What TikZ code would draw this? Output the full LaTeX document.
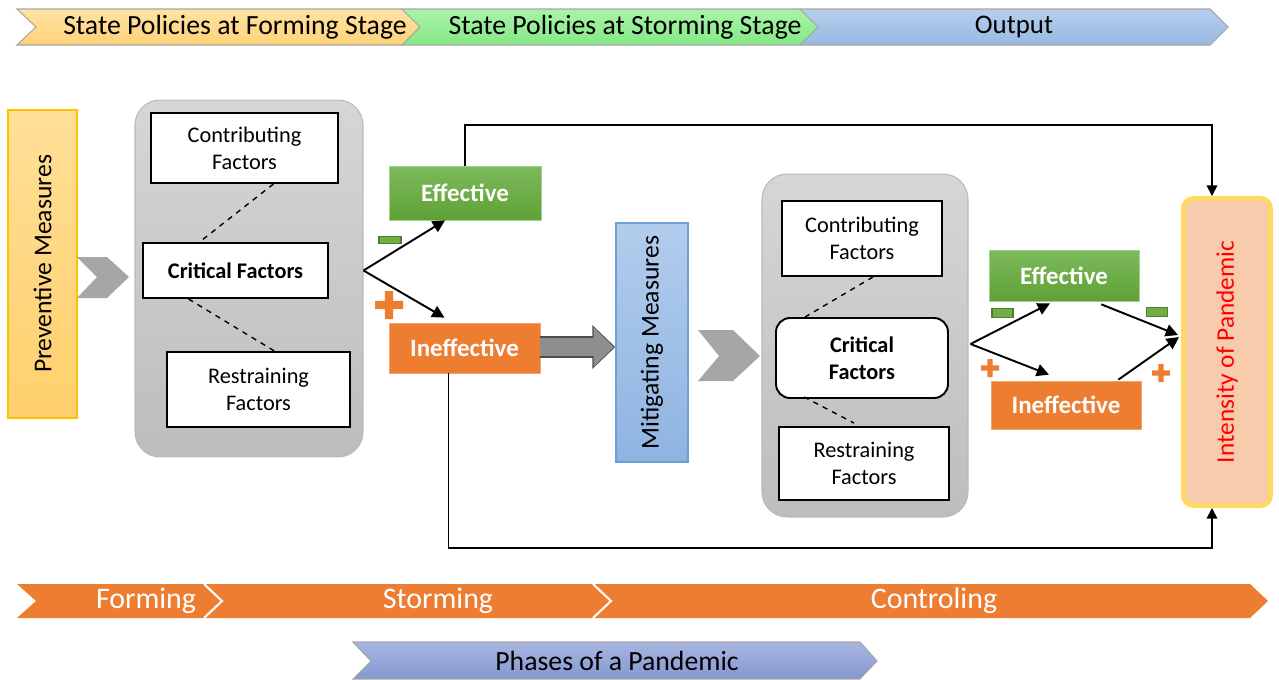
\documentclass[tikz,border=0pt]{standalone}
\usepackage{fontspec}
\setmainfont{Carlito}
\usetikzlibrary{arrows.meta,calc}
\definecolor{yelTop}{HTML}{FFE2A4}
\definecolor{yelBot}{HTML}{FFD277}
\definecolor{grnTop}{HTML}{AAF3AA}
\definecolor{grnBot}{HTML}{84E884}
\definecolor{bluTop}{HTML}{B6CFEC}
\definecolor{bluBot}{HTML}{97B9E2}
\definecolor{phTop}{HTML}{A9B6E2}
\definecolor{phBot}{HTML}{8497D0}
\definecolor{orng}{HTML}{ED7D31}
\definecolor{holdTop}{HTML}{D6D6D6}
\definecolor{holdBot}{HTML}{BDBDBD}
\definecolor{effTop}{HTML}{7DBA5C}
\definecolor{effBot}{HTML}{5FA135}
\definecolor{prevTop}{HTML}{FFDF98}
\definecolor{prevBot}{HTML}{FFD06C}
\definecolor{prevLine}{HTML}{FFC000}
\definecolor{mitTop}{HTML}{B2CDEC}
\definecolor{mitBot}{HTML}{8FB3E1}
\definecolor{mitLine}{HTML}{6E9FD5}
\definecolor{intFill}{HTML}{F8CBAD}
\definecolor{intLine}{HTML}{FFD966}
\definecolor{minusGrn}{HTML}{70AD47}
\definecolor{minusDark}{HTML}{507E32}
\definecolor{chevGray}{HTML}{A6A6A6}
\definecolor{arrGray}{HTML}{8F8F8F}
\definecolor{arrLine}{HTML}{4D4D4D}
\begin{document}
\begin{tikzpicture}[x=0.02cm, y=-0.02cm,
    stagebar/.style = {draw=gray!70, line width=0.6pt},
    stagetext/.style = {font=\fontsize{15.8}{18}\selectfont},
    phasetext/.style = {font=\fontsize{17}{20}\selectfont, text=white},
    holder/.style = {shape=rectangle, draw=gray!55, line width=0.6pt,
      rounded corners=0.5cm, top color=holdTop, bottom color=holdBot, inner sep=0pt},
    factor/.style = {shape=rectangle, draw, line width=1.1pt, fill=white,
      align=center, inner sep=0pt, font=\fontsize{12.7}{15.5}\selectfont},
    critical/.style = {factor, font=\fontsize{12.7}{15.5}\selectfont\bfseries},
    effect/.style = {shape=rectangle, inner sep=0pt, text=white,
      font=\fontsize{14.2}{17}\selectfont\bfseries},
    good/.style = {effect, draw=effTop!70!white, top color=effTop, bottom color=effBot},
    bad/.style = {effect, draw=orng!70!white, fill=orng},
    measure/.style = {shape=rectangle, rotate=90, inner sep=0pt,
      font=\fontsize{14.6}{17}\selectfont},
    flow/.style = {line width=1.1pt, -{Triangle[length=7pt,width=7pt]}},
    loopline/.style = {line width=0.9pt, -{Triangle[length=6pt,width=6pt]}},
    blockarr/.style = {line width=10.8pt, draw=arrGray, -{Triangle[length=11.4pt,width=21.6pt]}},
    chevron/.style = {fill=chevGray},
    minus/.style = {shape=rectangle, draw=minusDark, line width=0.6pt, fill=minusGrn,
      inner sep=0pt, minimum width=0.44cm, minimum height=0.14cm}]
  \useasboundingbox (0,0) rectangle (1279,680);

  % stages of state policies
  \draw[stagebar, top color=yelTop, bottom color=yelBot] (17,9) -- (402,9) -- (420,27) -- (402,45) -- (17,45) -- (36,27) -- cycle;
  \draw[stagebar, top color=grnTop, bottom color=grnBot] (402,9) -- (800,9) -- (818,27) -- (800,45) -- (402,45) -- (420,27) -- cycle;
  \draw[stagebar, top color=bluTop, bottom color=bluBot] (800,9) -- (1210,9) -- (1228,27) -- (1210,45) -- (800,45) -- (818,27) -- cycle;
  \node[stagetext] (polform) at (235,27) {State Policies at Forming Stage};
  \node[stagetext] (polstorm) at (625,27) {State Policies at Storming Stage};
  \node[stagetext, font=\fontsize{15.3}{18}\selectfont] (output) at (1014,27) {Output};

  % forming stage
  \node[measure, minimum width=6.16cm, minimum height=1.38cm, draw=prevLine, line width=0.8pt,
    top color=prevTop, bottom color=prevBot] (prevent) at (42.5,264) {Preventive Measures};
  \fill[chevron] (77,257) -- (107,257) -- (129,277) -- (107,298) -- (77,298) -- (97,277) -- cycle;
  \node[holder, minimum width=4.56cm, minimum height=7.14cm] (hold1) at (249,278.5) {};
  \node[factor, minimum width=3.74cm, minimum height=1.4cm] (contr1) at (244.5,148) {Contributing\\Factors};
  \node[critical, minimum width=3.7cm, minimum height=1.1cm] (crit1) at (235.5,270.5) {Critical Factors};
  \node[factor, minimum width=3.66cm, minimum height=1.5cm] (restr1) at (258.5,389.5) {Restraining\\Factors};
  \draw[dashed, line width=0.8pt] ($(contr1.south)+(29,0)$) -- ($(crit1.north)+(-36,0)$);
  \draw[dashed, line width=0.8pt] ($(crit1.south)+(-47,0)$) -- ($(restr1.north)+(16,0)$);

  \node[good, minimum width=3.04cm, minimum height=1.08cm] (eff1) at (465,193) {Effective};
  \node[bad, minimum width=3.02cm, minimum height=1.0cm] (ineff1) at (464.5,348) {Ineffective};
  \coordinate (split1) at (hold1.east |- crit1.east);
  \draw[flow] (split1) -- ($(eff1.south)+(-20,0)$);
  \draw[flow] (split1) -- ($(ineff1.north)+(-20,-5)$);

  % storming stage
  \node[measure, minimum width=4.78cm, minimum height=1.44cm, draw=mitLine, line width=0.8pt,
    top color=mitTop, bottom color=mitBot] (mitig) at (652,342.5) {Mitigating Measures};
  \draw[blockarr, line width=12pt, draw=arrLine, -{Triangle[length=13pt,width=24pt]}] ($(ineff1.east)+(0,-1)$) -- ($(ineff1.east -| mitig.north)+(0,-1)$);
  \draw[blockarr, shorten >=0.9pt] ($(ineff1.east)+(0,-1)$) -- ($(ineff1.east -| mitig.north)+(0,-1)$);
  \fill[chevron] (698,330) -- (733,330) -- (760,356) -- (733,381) -- (698,381) -- (719,356) -- cycle;
  \node[holder, minimum width=4.12cm, minimum height=6.86cm] (hold2) at (865,345.5) {};
  \node[factor, minimum width=3.2cm, minimum height=1.5cm] (contr2) at (862,238.5) {Contributing\\Factors};
  \node[critical, rounded corners=0.28cm, minimum width=3.44cm, minimum height=1.6cm] (crit2) at (862,358) {Critical\\Factors};
  \node[factor, minimum width=3.4cm, minimum height=1.46cm] (restr2) at (864,463.5) {Restraining\\Factors};
  \draw[dashed, line width=0.8pt] ($(contr2.south)+(11,0)$) -- ($(crit2.north)+(-57,0)$);
  \draw[dashed, line width=0.8pt] ($(crit2.south)+(-58,-2)$) -- ($(restr2.north)+(-10,-3)$);

  \node[good, minimum width=3cm, minimum height=1.02cm] (eff2) at (1064,275.5) {Effective};
  \node[bad, minimum width=3cm, minimum height=0.96cm] (ineff2) at (1066,405) {Ineffective};
  \coordinate (split2) at ($(hold2.east |- crit2.center)+(2,-14)$);
  \draw[flow] (split2) -- ($(eff2.south)+(-14,2)$);
  \draw[flow] (split2) -- ($(ineff2.north)+(-17,-6)$);

  % output
  \node[measure, minimum width=6.14cm, minimum height=1.74cm, draw=intLine, line width=2.85pt,
    rounded corners=0.2cm, fill=intFill, text=red, font=\fontsize{14.4}{17}\selectfont] (intens) at (1227,352) {Intensity of Pandemic};
  \draw[flow] ($(eff2.south east)+(-38,3)$) -- ($(intens.north)+(-3,-17)$);
  \draw[flow] ($(ineff2.north east)+(-23,-1)$) -- ($(intens.north)+(-2,-15)$);
  \coordinate (topturn) at (1212,125);
  \coordinate (lowturn) at (1212,548);
  \draw[loopline] (eff1.north) |- (topturn) -- (intens.east -| topturn);
  \draw[loopline] ($(ineff1.south)+(-16,0)$) |- (lowturn) -- (intens.west -| topturn);

  % signs
  \node[minus] (minus1) at (390,240) {};
  \node[minus, minimum width=0.42cm, minimum height=0.17cm] (minus2) at (1002.5,313) {};
  \node[minus, minimum width=0.42cm, minimum height=0.17cm] (minus3) at (1157,312) {};
  \foreach \px/\py/\ps in {389/305/14, 990/368/9, 1161/373/9}
    \fill[orng] (\px-\ps,\py-0.3*\ps) rectangle (\px+\ps,\py+0.3*\ps)
      (\px-0.3*\ps,\py-\ps) rectangle (\px+0.3*\ps,\py+\ps);

  % phases
  \fill[orng] (17,584) -- (1250,584) -- (1268,601) -- (1250,618) -- (17,618) -- (36,601) -- cycle;
  \draw[white, line width=1.2pt] (204,584) -- (222,601) -- (204,618);
  \draw[white, line width=1.2pt] (593,584) -- (611,601) -- (593,618);
  \node[phasetext] (forming) at (146,601) {Forming};
  \node[phasetext] (storming) at (438,601) {Storming};
  \node[phasetext] (controling) at (934,601) {Controling};
  \draw[stagebar, top color=phTop, bottom color=phBot] (353,642) -- (860,642) -- (877,661) -- (860,679) -- (353,679) -- (371,661) -- cycle;
  \node[stagetext] (phases) at (617,661) {Phases of a Pandemic};
\end{tikzpicture}
\end{document}
